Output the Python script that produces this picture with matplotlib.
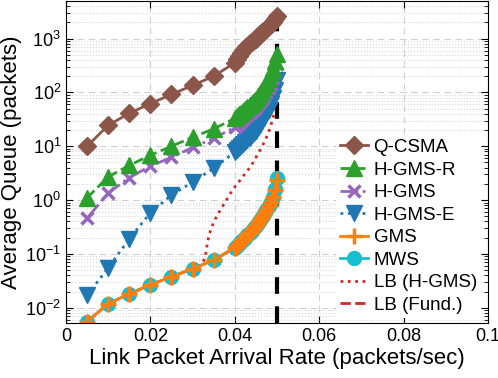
import numpy as np
import matplotlib
matplotlib.use('Agg')
import matplotlib.pyplot as plt

plt.rcParams['font.family'] = ['Liberation Sans', 'DejaVu Sans']
plt.rcParams['mathtext.fontset'] = 'custom'
plt.rcParams['mathtext.rm'] = 'Liberation Sans'
plt.rcParams['mathtext.default'] = 'regular'

# taxas de chegada: pontos esparsos e depois densos perto de 0.05
x_sparse = [0.005, 0.01, 0.015, 0.02, 0.025, 0.03, 0.035]
x_dense = [0.040, 0.0405, 0.041, 0.0415, 0.042, 0.0425, 0.043, 0.0435, 0.044, 0.0445, 0.045,
           0.0455, 0.046, 0.0465, 0.047, 0.0475, 0.048, 0.0485, 0.049, 0.0495, 0.050]
rates = x_sparse + x_dense

q_csma = [10, 24.5, 41, 62, 92, 135, 200,
          355, 420, 480, 540, 610, 680, 740, 810, 870, 935, 1000,
          1100, 1200, 1300, 1400, 1530, 1680, 1850, 2050, 2300, 2600]
h_gms_r = [1.1, 2.7, 4.4, 6.8, 10, 14.7, 21,
           33, 36, 39, 42, 46, 50, 54, 59, 64, 70, 77,
           86, 96, 110, 126, 147, 180, 225, 290, 380, 520]
h_gms = [0.46, 1.35, 2.6, 4.3, 6.2, 9.5, 14,
         22.5, 24.5, 27, 29.5, 32, 35, 38, 41.5, 45, 49, 54,
         60, 67, 76, 87, 100, 120, 145, 185, 245, 340]
h_gms_e = [0.017, 0.055, 0.19, 0.58, 1.24, 2.15, 3.9,
           7.8, 8.4, 9.1, 9.9, 10.8, 11.8, 13, 14.5, 16, 17.5, 19.5,
           22, 25, 29, 34, 40, 48, 60, 78, 110, 170]
gms = [0.0055, 0.0119, 0.018, 0.0267, 0.0375, 0.053, 0.077,
       0.13, 0.14, 0.155, 0.17, 0.185, 0.2, 0.22, 0.245, 0.27, 0.3, 0.33,
       0.37, 0.42, 0.48, 0.55, 0.64, 0.76, 0.92, 1.15, 1.55, 2.4]
mws = [0.0055, 0.0119, 0.018, 0.0267, 0.0375, 0.053, 0.077,
       0.13, 0.14, 0.155, 0.17, 0.185, 0.2, 0.22, 0.245, 0.27, 0.3, 0.33,
       0.37, 0.42, 0.48, 0.55, 0.64, 0.76, 0.92, 1.15, 1.6, 2.6]

# limites inferiores
lb_rates = [0.005, 0.01, 0.015, 0.02, 0.025, 0.03, 0.032, 0.033, 0.0335, 0.034, 0.035,
            0.036, 0.037, 0.038, 0.039, 0.040, 0.041, 0.042, 0.043, 0.044, 0.045,
            0.046, 0.047, 0.048, 0.049, 0.0495]
lb_hgms = [0.0055, 0.0119, 0.018, 0.0267, 0.0375, 0.053, 0.062, 0.085, 0.16, 0.24, 0.39,
           0.55, 0.74, 1.0, 1.35, 1.75, 2.2, 2.8, 3.5, 4.5, 6.2,
           8.5, 12, 18, 32, 48]
lb_fund = gms

capacity = 0.05

fig = plt.figure(figsize=(4.98, 3.78), dpi=100)
ax = fig.add_axes([0.1325, 0.1455, 0.8475, 0.852])

lw = 2
h7, = ax.plot(lb_rates, lb_hgms, ':', color='#d62728', lw=lw, label='LB (H-GMS)')
h8, = ax.plot(rates, lb_fund, '--', color='#d62728', lw=lw, label='LB (Fund.)')
h4, = ax.plot(rates, h_gms_e, ':', color='#1f77b4', lw=lw, marker='v', ms=11, label='H-GMS-E')
h3, = ax.plot(rates, h_gms, '-.', color='#9467bd', lw=lw, marker='x', ms=9, mew=2.5, label='H-GMS')
h2, = ax.plot(rates, h_gms_r, '--', color='#2ca02c', lw=lw, marker='^', ms=11, label='H-GMS-R')
h1, = ax.plot(rates, q_csma, '-', color='#8c564b', lw=lw, marker='D', ms=9, label='Q-CSMA')
h6, = ax.plot(rates, mws, '-', color='#17becf', lw=lw, marker='o', ms=10, label='MWS')
h5, = ax.plot(rates, gms, '-', color='#ff7f0e', lw=lw, marker='+', ms=11, mew=2.5, label='GMS')

ax.axvline(capacity, color='k', ls=(0, (4, 3)), lw=3, zorder=1.5)

ax.set_yscale('log')
ax.set_xlim(0, 0.1)
ax.set_ylim(5.2e-3, 5e3)
ax.set_xticks([0, 0.02, 0.04, 0.06, 0.08, 0.1])
ax.set_xticklabels(['0', '0.02', '0.04', '0.06', '0.08', '0.1'])
ax.set_yticks([1e-2, 1e-1, 1e0, 1e1, 1e2, 1e3])

ax.grid(True, which='major', ls=(0, (6, 4)), color='#d0d0d0', lw=0.8)
ax.grid(True, which='minor', axis='y', ls=':', color='#d8d8d8', lw=0.8)
ax.set_axisbelow(True)
ax.tick_params(which='both', direction='in', top=True, right=True, labelsize=13)
ax.tick_params(which='major', length=5)
ax.tick_params(which='minor', length=3)
for s in ax.spines.values():
    s.set_linewidth(0.8)

ax.set_xlabel('Link Packet Arrival Rate (packets/sec)', fontsize=16, labelpad=2)
ax.set_ylabel('Average Queue (packets)', fontsize=16, labelpad=2)

leg = ax.legend(handles=[h1, h2, h3, h4, h5, h6, h7, h8], loc='center left',
                bbox_to_anchor=(0.64, 0.3), fontsize=13.5, frameon=True,
                edgecolor='none', facecolor='white', framealpha=1, fancybox=False,
                borderaxespad=0, borderpad=0.2, handlelength=1.5, handletextpad=0.3,
                labelspacing=0.29)

fig.savefig('out.png', dpi=100)
